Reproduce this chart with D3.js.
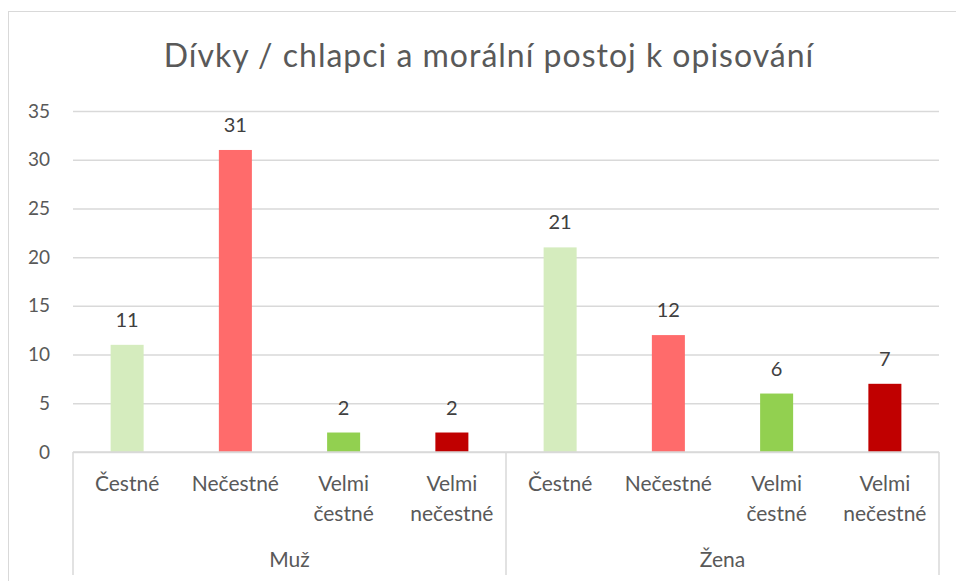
<!DOCTYPE html>
<html>
<head>
<meta charset="utf-8">
<script src="https://cdn.jsdelivr.net/npm/d3@7"></script>
<style>
  body { margin: 0; background: #fff; }
  text { font-family: Lato, "Open Sans", sans-serif; }
</style>
</head>
<body>
<div id="vis"></div>
<script>
const groups = ["Muž", "Žena"];
const categories = ["Čestné", "Nečestné", "Velmi čestné", "Velmi nečestné"];
const catLines = [["Čestné"], ["Nečestné"], ["Velmi", "čestné"], ["Velmi", "nečestné"]];
const valuesMuz = [11, 31, 2, 2];
const valuesZena = [21, 12, 6, 7];
const colors = ["#d5ecbe", "#ff6b6b", "#92d050", "#c00000"];
const yTicks = [0, 5, 10, 15, 20, 25, 30, 35];

const WIDTH = 956, HEIGHT = 581;
const MARG = {left: 73, right: 17, top: 111, bottom: 129};

const svg = d3.select("#vis").append("svg")
  .attr("width", WIDTH).attr("height", HEIGHT);

// chart frame
svg.append("rect")
  .attr("x", 8.5).attr("y", 11.5)
  .attr("width", 1000).attr("height", 700)
  .attr("fill", "none").attr("stroke", "#d9d9d9");

svg.append("text")
  .attr("x", 489).attr("y", 67)
  .attr("text-anchor", "middle")
  .attr("font-size", 32)
  .attr("letter-spacing", 1)
  .attr("fill", "#595959")
  .text("Dívky / chlapci a morální postoj k opisování");

const rows = [];
groups.forEach((g, gi) => {
  const vals = gi === 0 ? valuesMuz : valuesZena;
  categories.forEach((c, ci) => rows.push({group: g, cat: c, ci: ci, value: vals[ci]}));
});

const x = d3.scaleBand()
  .domain(rows.map(d => d.group + "|" + d.cat))
  .range([MARG.left, WIDTH - MARG.right])
  .paddingInner(0.695).paddingOuter(0.3475);

const y = d3.scaleLinear()
  .domain([0, 35])
  .range([HEIGHT - MARG.bottom, MARG.top]);

// gridlines + y labels
const yAxis = svg.append("g")
  .attr("transform", "translate(" + MARG.left + ",0)")
  .call(d3.axisLeft(y).tickValues(yTicks).tickSize(-(WIDTH - MARG.left - MARG.right)).tickPadding(23));
yAxis.select(".domain").remove();
yAxis.selectAll(".tick line").attr("stroke", "#d9d9d9").attr("stroke-width", 1.5);
yAxis.selectAll(".tick text")
  .attr("font-size", 19).attr("fill", "#595959")
  .style("font-family", "Lato, sans-serif");

// bars
svg.selectAll("rect.bar")
  .data(rows)
  .enter().append("rect")
    .attr("class", "bar")
    .attr("x", d => x(d.group + "|" + d.cat))
    .attr("y", d => y(d.value))
    .attr("width", x.bandwidth())
    .attr("height", d => y(0) - y(d.value))
    .attr("fill", d => colors[d.ci]);

// value labels
svg.selectAll("text.val")
  .data(rows)
  .enter().append("text")
    .attr("class", "val")
    .attr("x", d => x(d.group + "|" + d.cat) + x.bandwidth() / 2)
    .attr("y", d => y(d.value) - 18)
    .attr("text-anchor", "middle")
    .attr("font-size", 20)
    .attr("fill", "#404040")
    .text(d => d.value);

// x axis line and group separators
const base = y(0);
svg.append("line")
  .attr("x1", MARG.left).attr("x2", WIDTH - MARG.right)
  .attr("y1", base).attr("y2", base)
  .attr("stroke", "#d9d9d9").attr("stroke-width", 1.5);

const step = x.step();
const groupEdges = [0, 4, 8].map(i => MARG.left + i * step);
svg.selectAll("line.sep")
  .data(groupEdges)
  .enter().append("line")
    .attr("class", "sep")
    .attr("x1", d => d).attr("x2", d => d)
    .attr("y1", base).attr("y2", 575)
    .attr("stroke", "#d9d9d9").attr("stroke-width", 1.5);

// category labels
const catText = svg.selectAll("text.cat")
  .data(rows)
  .enter().append("text")
    .attr("class", "cat")
    .attr("x", d => x(d.group + "|" + d.cat) + x.bandwidth() / 2)
    .attr("y", 491)
    .attr("text-anchor", "middle")
    .attr("font-size", 21)
    .attr("fill", "#595959");
catText.selectAll("tspan")
  .data(d => catLines[d.ci].map(t => ({t: t, x: x(d.group + "|" + d.cat) + x.bandwidth() / 2})))
  .enter().append("tspan")
    .attr("x", d => d.x)
    .attr("dy", (d, i) => i === 0 ? 0 : 30)
    .text(d => d.t);

// group labels
svg.selectAll("text.grp")
  .data(groups)
  .enter().append("text")
    .attr("class", "grp")
    .attr("x", (d, i) => (groupEdges[i] + groupEdges[i + 1]) / 2)
    .attr("y", 567)
    .attr("text-anchor", "middle")
    .attr("font-size", 21)
    .attr("fill", "#595959")
    .text(d => d);
</script>
</body>
</html>
